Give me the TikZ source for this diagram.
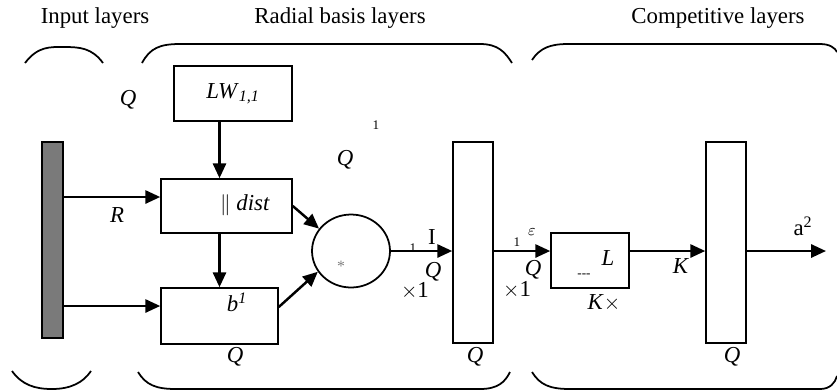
\documentclass[tikz,border=0pt]{standalone}
\usepackage{fontspec}
\setmainfont{Liberation Serif}
\usetikzlibrary{positioning, arrows.meta, shapes.geometric}
\definecolor{bargray}{HTML}{7A7A7A}

\begin{document}
\begin{tikzpicture}[
      x=0.02cm, y=-0.02cm,
      every node/.style={font=\fontsize{13}{15}\selectfont, inner sep=0pt},
      box/.style={draw, line width=0.9pt, fill=white},
      layer/.style={box, minimum width=0.8cm, minimum height=4.02cm},
      arr/.style={line width=1.4pt, -{Triangle[length=8.5pt, width=7.5pt]}},
      brace/.style={line width=1pt},
      tiny/.style={font=\fontsize{7.5}{8}\selectfont},
    ]
    \useasboundingbox (0,0) rectangle (837,390);

    \node at (95,18) {Input layers};
    \node at (340,18) {Radial basis layers};
    \node at (718,18) {Competitive layers};

    \draw[brace] (25,63) .. controls (38,46) and (50,47) .. (64,47)
                        .. controls (80,47) and (92,48) .. (103,63);
    \draw[brace] (142,63) .. controls (150,48) and (160,44) .. (180,44) -- (480,44)
                         .. controls (498,44) and (505,52) .. (512,63);
    \draw[brace] (532,60) .. controls (540,48) and (550,44) .. (568,44) -- (820,44)
                         .. controls (830,44) and (835,48) .. (837,52);
    \draw[brace] (12,371) .. controls (22,385) and (35,389) .. (52,389)
                         .. controls (70,389) and (83,383) .. (91,371);
    \draw[brace] (138,372) .. controls (146,385) and (156,389) .. (176,389) -- (480,389)
                          .. controls (498,389) and (505,382) .. (510,372);
    \draw[brace] (532,372) .. controls (540,385) and (550,389) .. (570,389) -- (820,389)
                          .. controls (830,389) and (835,383) .. (837,376);

    \node[box, fill=bargray, minimum width=0.42cm, minimum height=3.92cm] (bar) at (52.5,240) {};
    \node[box, minimum width=2.36cm, minimum height=1.1cm] (lw) at (233,93.5)
      {\textit{LW}\textsubscript{\textit{1,1}}};
    \node[box, minimum width=2.62cm, minimum height=1.08cm] (dist) at (226.5,206) {};
    \node[box, minimum width=2.34cm, minimum height=1.12cm] (bias) at (219.5,316) {};
    \node[draw, line width=1pt, ellipse, minimum width=1.56cm, minimum height=1.46cm,
          inner sep=0pt] (prod) at (351,251) {};
    \node[layer] (radial) at (473,242.5) {};
    \node[box, minimum width=1.56cm, minimum height=1.1cm] (lwt) at (590,260.5) {};
    \node[layer] (compet) at (726,242.5) {};
    \coordinate (out) at (826,251);

    \draw[arr] (lw.south -| bias.north) -- (dist.north -| bias.north);
    \draw[arr] (dist.south -| bias.north) -- (bias.north);
    \draw[arr] (bar.east |- 0,197) -- (dist.west |- 0,197);
    \draw[arr] (bar.east |- 0,306) -- (bias.west |- 0,306);
    \draw[arr] (dist.east) -- (prod.145);
    \draw[arr] ([yshift=0.18cm]bias.east) -- (prod.212);
    \draw[arr] (prod.east) -- (radial.west |- prod.east);
    \draw[arr] (radial.east |- prod.east) -- (lwt.west |- prod.east);
    \draw[arr] (lwt.east |- prod.east) -- (compet.west |- prod.east);
    \draw[arr] (compet.east |- prod.east) -- (out);

    \node at (245,205) {$\|$ \textit{dist}};
    \node at (237,302) {\textit{b}\textsuperscript{\textit{1}}};
    \node at (117,215) {\textit{R}};
    \node at (128,100) {\textit{Q}};
    \node[tiny] at (376,125) {1};
    \node at (345,160) {\textit{Q}};
    \node[text=gray] at (341,266) {\fontsize{9}{10}\selectfont *};
    \node[tiny] at (413,248) {1};
    \node at (432,237) {I};
    \node at (433,272) {\textit{Q}};
    \node at (415,291) {$\times$1};
    \node[tiny] at (517,242) {1};
    \node at (532,232) {\fontsize{9}{10}\selectfont$\varepsilon$};
    \node at (533,270) {\textit{Q}};
    \node at (517,290) {$\times$1};
    \node at (608,258) {\textit{L}};
    \node[tiny] at (584,276) {{-}{-}{-}};
    \node at (604,303) {\textit{K}$\times$};
    \node at (681,266) {\textit{K}};
    \node at (803,226) {a\textsuperscript{2}};
    \node at (235,357) {\textit{Q}};
    \node at (475,357) {\textit{Q}};
    \node at (732,357) {\textit{Q}};
  \end{tikzpicture}
\end{document}
